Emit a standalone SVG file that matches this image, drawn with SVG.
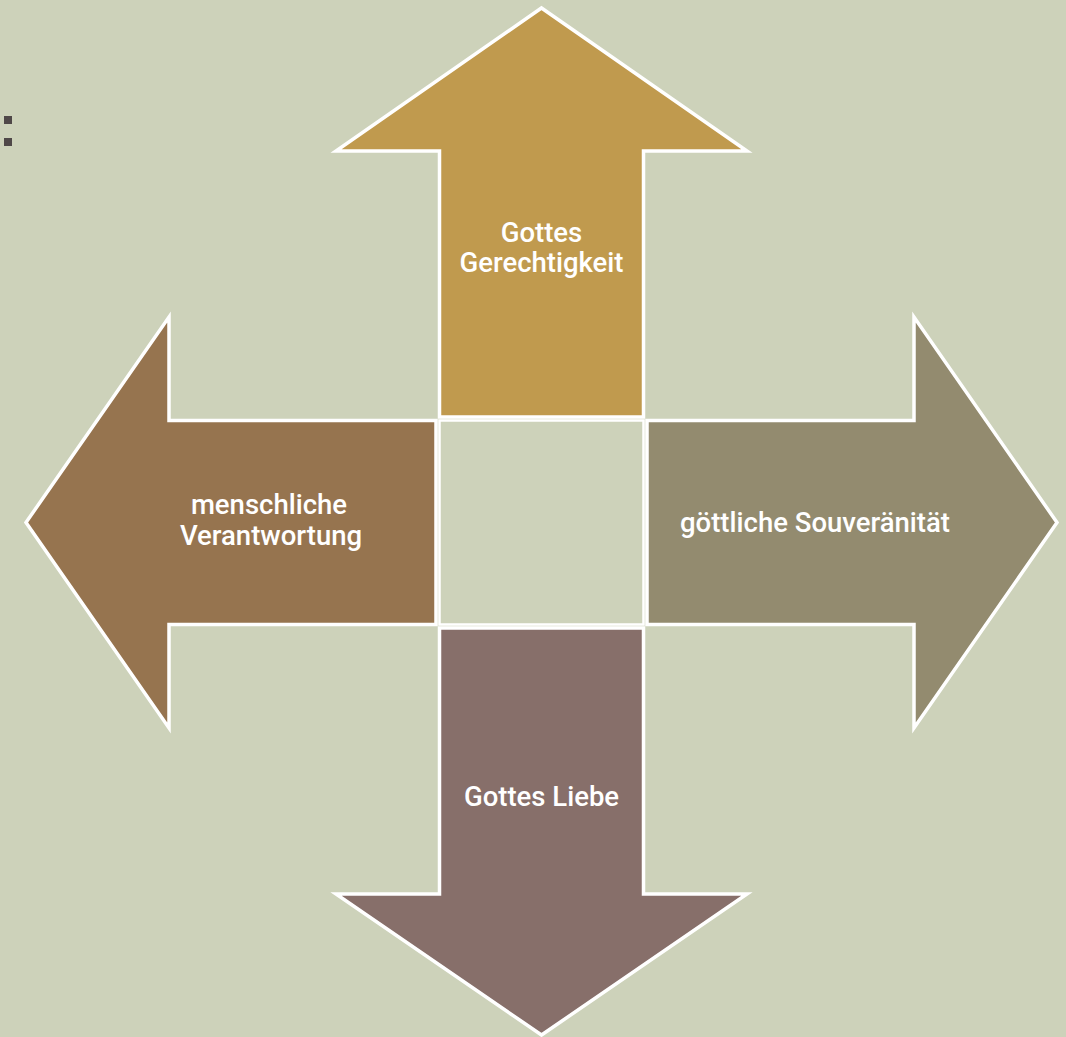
<svg xmlns="http://www.w3.org/2000/svg" width="1066" height="1037" viewBox="0 0 1066 1037">
<style>
.arrow{stroke:#FFFFFF;stroke-width:3.5;stroke-linejoin:miter}
.lbl{font-family:Roboto,"Liberation Sans",Arial,sans-serif;font-weight:500;font-size:27.5px;fill:#FFFFFF;text-anchor:middle}
</style>
<rect x="0" y="0" width="1066" height="1037" fill="#CDD2BA"/>
<g id="bullets" fill="#4F4848">
<rect x="4" y="116" width="8" height="8"/>
<rect x="4" y="138" width="8" height="8"/>
</g>
<g id="center">
<rect x="439.5" y="420.5" width="204" height="204" fill="#CDD2BA" stroke="#FFFFFF" stroke-width="2.5"/>
</g>
<g id="top">
<polygon class="arrow" fill="#C09A4E" points="541.5,8 747,151 643.5,151 643.5,417 439.5,417 439.5,151 336,151"/>
<text class="lbl" x="541.5" y="242">Gottes</text>
<text class="lbl" x="541.5" y="272">Gerechtigkeit</text>
</g>
<g id="left">
<polygon class="arrow" fill="#96744F" points="26,522.5 169,317 169,420.5 436,420.5 436,624.5 169,624.5 169,728"/>
<text class="lbl" x="269" y="514">menschliche</text>
<text class="lbl" x="271" y="544.5">Verantwortung</text>
</g>
<g id="right">
<polygon class="arrow" fill="#938B6F" points="1057,522.5 914,317 914,420.5 647,420.5 647,624.5 914,624.5 914,728"/>
<text class="lbl" x="815" y="532">göttliche Souveränität</text>
</g>
<g id="bottom">
<polygon class="arrow" fill="#876F6A" points="541.5,1035 747,894 643.5,894 643.5,628 439.5,628 439.5,894 336,894"/>
<text class="lbl" x="541.5" y="806">Gottes Liebe</text>
</g>
<g id="connectors"/>
</svg>
